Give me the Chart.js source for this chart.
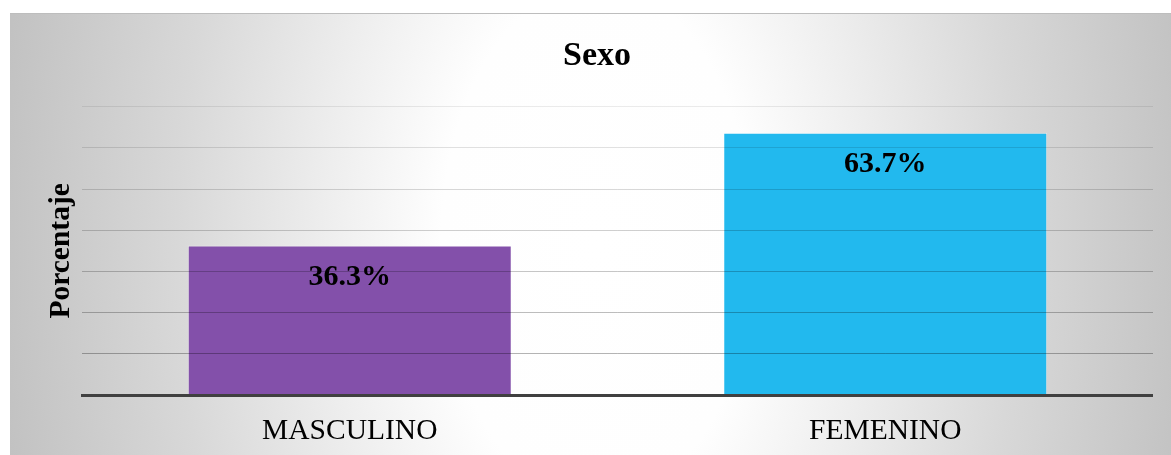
<!DOCTYPE html>
<html>
<head>
<meta charset="utf-8">
<script src="https://cdn.jsdelivr.net/npm/chart.js@4/dist/chart.umd.min.js"></script>
<style>
  html, body { margin: 0; padding: 0; background: #fff; }
  body { width: 1171px; height: 455px; overflow: hidden; position: relative; }
  #frame {
    position: absolute;
    left: 10px;
    top: 13px;
    width: 1161px;
    height: 442px;
    border-top: 1px solid #bdbdbd;
    background: radial-gradient(ellipse 600px 1000px at 587px 230px,
      #ffffff 0%, #fefefe 26%, #eeeeee 45%, #d8d8d8 70%, #c2c2c2 100%);
  }
  #chartBox { position: absolute; left: 0; top: 0; width: 1143px; height: 441px; }
</style>
</head>
<body>
<div id="frame">
  <div id="chartBox"><canvas id="sexoChart"></canvas></div>
</div>
<script>
const categories = ["MASCULINO", "FEMENINO"];
const porcentajes = [36.3, 63.7];
const barColors = ["#8350aa", "#22b9ee"];
const yTicks = [0, 10, 20, 30, 40, 50, 60, 70];

const serif = "'Liberation Serif', 'Times New Roman', serif";

// etiquetas de porcentaje dentro de la barra
const valueLabels = {
  id: "valueLabels",
  afterDraw(chart) {
    const ctx = chart.ctx;
    const meta = chart.getDatasetMeta(0);
    ctx.save();
    ctx.font = "bold 30px " + serif;
    ctx.fillStyle = "#000";
    ctx.textAlign = "center";
    ctx.textBaseline = "middle";
    meta.data.forEach((bar, i) => {
      ctx.fillText(porcentajes[i].toFixed(1) + "%", bar.x, bar.y + 32);
    });
    ctx.restore();
  },
};

new Chart(document.getElementById("sexoChart"), {
  type: "bar",
  data: {
    labels: categories,
    datasets: [
      {
        label: "Sexo",
        data: porcentajes,
        backgroundColor: barColors,
        borderColor: "rgba(255, 255, 255, 0.4)",
        borderWidth: 1,
        barPercentage: 0.605,
        categoryPercentage: 1,
      },
    ],
  },
  options: {
    responsive: true,
    maintainAspectRatio: false,
    animation: false,
    layout: { padding: { left: 31, right: 0, top: 0, bottom: 0 } },
    plugins: {
      legend: { display: false },
      tooltip: { enabled: false },
      title: {
        display: true,
        text: "Sexo",
        color: "#000",
        font: { family: serif, size: 34, weight: "bold" },
        padding: { top: 22, bottom: 30 },
      },
    },
    scales: {
      y: {
        min: 0,
        max: 70,
        afterBuildTicks: (scale) => {
          scale.ticks = yTicks.map((v) => ({ value: v }));
        },
        afterFit: (scale) => {
          scale.width = 41;
        },
        ticks: { display: false },
        border: { display: false },
        grid: {
          z: 1,
          drawTicks: false,
          lineWidth: 1,
          color: (c) => "rgba(0, 0, 0, " + (0.08 + ((70 - c.tick.value) / 70) * 0.25).toFixed(3) + ")",
        },
        title: {
          display: true,
          text: "Porcentaje",
          color: "#000",
          font: { family: serif, size: 29.5, weight: "bold" },
          padding: { top: 3, bottom: 0 },
        },
      },
      x: {
        afterFit: (scale) => {
          scale.height = 60;
        },
        grid: { display: false, drawTicks: false },
        border: { display: true, color: "#404040", width: 3, z: 2 },
        ticks: {
          color: "#000",
          padding: 19,
          font: { family: serif, size: 29.5 },
        },
      },
    },
  },
  plugins: [valueLabels],
});
</script>
</body>
</html>
